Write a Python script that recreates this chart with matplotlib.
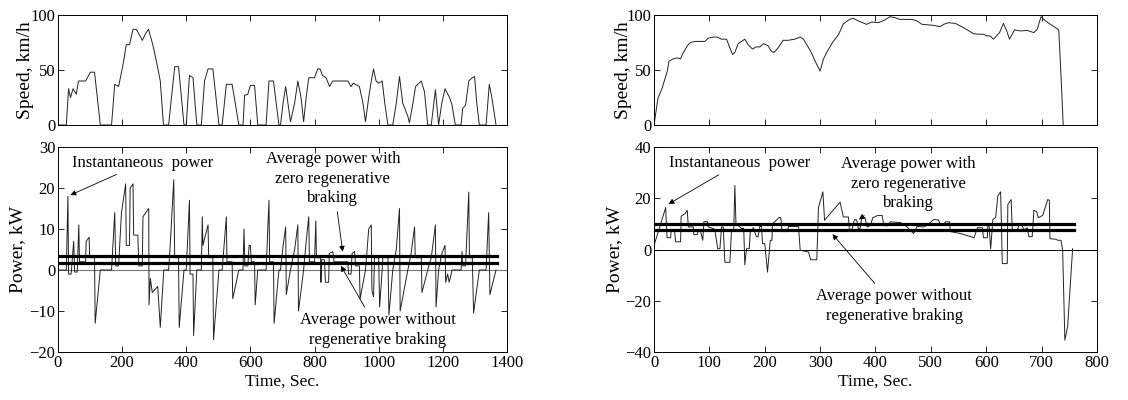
import matplotlib
matplotlib.use("Agg")
from matplotlib import pyplot as plt

plt.rcParams['font.family'] = ['Liberation Serif', 'DejaVu Serif']
plt.rcParams['font.size'] = 12

# ---- left cycle (urban) ----
t_spd_a = [0, 26, 33, 39, 47, 57, 64, 86, 101, 114, 132, 167, 177, 189, 203, 213, 223, 234, 244,
           252, 263, 273, 282, 292, 298, 309, 319, 329, 345, 364, 376, 393, 400, 410, 421, 433,
           447, 457, 468, 483, 502, 512, 525, 543, 564, 577, 582, 592, 600, 613, 623, 649, 658,
           672, 689, 694, 702, 710, 717, 725, 738, 748, 758, 766, 774, 782, 800, 810, 817, 825,
           836, 847, 857, 904, 914, 921, 940, 951, 959, 969, 977, 984, 992, 1000, 1011, 1019,
           1029, 1044, 1055, 1065, 1075, 1091, 1096, 1107, 1115, 1133, 1143, 1153, 1164, 1177,
           1187, 1197, 1207, 1221, 1229, 1239, 1257, 1262, 1271, 1281, 1292, 1299, 1306, 1314,
           1335, 1345, 1353, 1366]
spd_a = [0, 0, 33, 25, 33, 28, 40, 40, 48, 48, 0, 0, 37, 35, 55, 73, 73, 87, 87,
         83, 77, 83, 87, 77, 70, 55, 40, 0, 0, 53, 53, 0, 0, 45, 43, 0,
         0, 40, 51, 51, 0, 0, 37, 37, 0, 0, 27, 28, 36, 36, 0, 0, 40,
         40, 0, 0, 20, 35, 20, 3, 20, 40, 25, 3, 25, 43, 43, 51, 51, 45,
         43, 35, 40, 40, 35, 38, 35, 20, 3, 25, 40, 51, 40, 38, 40, 20,
         0, 0, 20, 44, 20, 8, 2, 20, 35, 40, 30, 0, 0, 32,
         0, 20, 33, 25, 18, 0, 0, 15, 18, 40, 43, 44, 20, 0,
         0, 37, 25, 0]

t_pwr_a = [0, 26, 31, 33, 41, 49, 52, 60, 65, 67,
           86, 88, 97, 99, 114, 116, 132, 167, 177, 180,
           189, 198, 211, 213, 223, 225, 234, 236, 249, 252,
           263, 265, 283, 284, 288, 294, 311, 319, 330, 345,
           350, 361, 364, 376, 378, 393, 400, 410, 412, 421,
           423, 433, 447, 450, 452, 468, 470, 483, 485, 502,
           512, 525, 527, 543, 545, 564, 577, 580, 583, 592,
           596, 600, 603, 613, 615, 623, 649, 658, 660, 672,
           674, 689, 694, 702, 710, 712, 725, 738, 748, 750,
           766, 774, 782, 784, 800, 804, 806, 819, 820, 822,
           831, 834, 844, 846, 857, 861, 904, 906, 914, 917,
           925, 928, 940, 942, 959, 969, 977, 979, 984, 987,
           1000, 1003, 1011, 1013, 1029, 1032, 1044, 1055, 1065, 1067,
           1091, 1101, 1112, 1114, 1133, 1135, 1153, 1164, 1177, 1179,
           1187, 1197, 1207, 1209, 1215, 1220, 1229, 1239, 1257, 1260,
           1262, 1271, 1281, 1283, 1292, 1296, 1314, 1335, 1343, 1347,
           1366]
pwr_a = [0, 0, 18, -1, -1, 7, -0.5, -0.5, 11, 2,
         2, 7, 8, 3, 3, -13, 0, 0, 14, 1,
         1, 14, 21, 6, 6, 20, 21, 8.5, 8.5, 1,
         1, 13, 15, -8.5, -2, -5.5, -4, -14, 0, 0,
         6, 22, 3, 3, -14, 0, 0, 17, -1, -1,
         -16, 0, 0, 13, 6, 11, 3, 3, -17, 0,
         0, 13, 2, 2, -7, 0, 0, 10, 1, 1,
         6, 6, 2, 2, -8.5, 0, 0, 17, 2, 2,
         -13, 0, 0, 6, 10.5, -6, 0, 5, 11, -10,
         0, 7, 13, 2, 2, 12, 3, 3, -3, 2.5,
         2.5, -3, -3, 4, 4.5, 2, 2, -1, -1, 4,
         4.5, 1, 1, -7, 0, 10, 11, -5, -6.5, 3,
         3, -9, 0, 3, 3, -11, 0, 5, 15, -10,
         0, 4, 10.5, 3, 3, -5.5, 0, 3, 11, -9,
         0, 4, 6, -3, -1, -3, 0, 0, 0, 4.5,
         1, 1, 19, 3, 3, -10.5, 0, 0, 14, -6,
         0]

avg_a = [3.5, 1.7]

# ---- right cycle (highway) ----
t_spd_b = [0, 7, 15, 24, 27, 34, 42, 48, 51, 60, 66, 74, 92, 98, 108, 114, 122, 131, 137, 142,
           146, 152, 164, 170, 178, 184, 191, 198, 206, 212, 217, 224, 233, 242, 254, 264, 270,
           283, 291, 300, 306, 313, 323, 333, 342, 353, 360, 369, 384, 393, 405, 417, 426, 435,
           444, 466, 475, 484, 505, 517, 523, 532, 544, 559, 577, 586, 595, 601, 607, 613, 624,
           631, 637, 642, 651, 662, 674, 686, 692, 699, 707, 725, 731, 735, 739]
spd_b = [0, 24, 34, 49, 58, 60, 61, 60, 64, 72, 75, 76, 76, 79, 80, 80, 78, 78, 70, 64,
         66, 74, 78, 73, 69, 71, 71, 74, 72, 67, 66, 70, 77, 77, 78, 80, 78,
         67, 58, 49, 60, 67, 75.5, 82, 92, 96, 97, 94.6, 91.5, 93.6, 93, 95.5, 98.5, 97.6,
         96, 96, 94.6, 91.5, 90.6, 89.4, 91.5, 93, 92.4, 88.5, 83, 82.5, 82.5, 81, 81, 78, 84,
         92.4, 85.5, 78, 86.4, 85.5, 86, 84, 87, 98.5, 94.6, 88.5, 86.4, 45, 0]

t_pwr_b = [0, 21, 23.5, 30, 31, 37, 39, 48, 49, 56, 60, 62, 71, 72, 78, 80, 84, 88, 90, 96,
           98, 107, 110, 115, 119, 122, 125, 128, 137, 140, 144, 146, 148, 154, 158, 162, 164,
           167, 172, 174, 178, 179, 185, 188, 191, 194, 196, 200, 205, 210, 213, 214, 226, 229,
           231, 240, 243, 261, 264, 279, 283, 294, 297, 305, 308, 336, 342, 351, 353, 357, 362,
           366, 369, 372, 375, 381, 385, 391, 395, 404, 412, 415, 421, 427, 445, 454, 463, 469,
           475, 487, 493, 505, 514, 517, 523, 526, 534, 535, 554, 578, 584, 593, 595, 602, 603,
           605, 608, 612, 617, 621, 626, 629, 638, 639, 645, 647, 656, 659, 665, 668, 674, 677,
           683, 686, 691, 694, 702, 705, 711, 714, 715, 726, 729, 735, 738, 742, 747, 756]
pwr_b = [1.6, 16.3, 4.6, 4.6, 7.5, 7.5, 3, 3, 13, 14, 15.3, 8.8, 8.8, 5.8, 5.8, 7.5, 7, 3.6, 10.8, 11,
         8.8, 8.2, 7.5, 0.3, 0.3, 8.8, 8.8, -5, -5, 7.7, 7.7, 25, 10, 9, 8.2, 8.2, -6,
         0.3, 0.3, 7.5, 7.5, 8.6, 5, 5, 9, 9, 2.3, 2.3, -8.8, 3.6, 3.6, 10, 12.5, 12.5,
         7, 7, 9, 9, -0.3, -1, -4, -4, 16.3, 22.5, 11.4, 18.5, 12.7, 12.7, 7.5, 7.5, 11.7,
         11.5, 8.2, 8.2, 12, 12.4, 8.8, 9.4, 12.4, 13.3, 13.3, 9.4, 9.2, 10.8, 10.5, 9.4, 7.5, 6.2,
         9, 8.8, 9.4, 11.7, 11.5, 9.4, 9.4, 10.8, 10.8, 7, 6.2, 4.6, 8.5, 8.5, 4.6, 4.6, 9.8,
         9.8, 0.3, 11.7, 12.5, 21, 22.5, -5.5, -5.5, 17.6, 19.5, 7.5, 7.5, 9.4, 9.4, 7.5, 8.5, 5,
         5, 15.3, 14.8, 12.4, 13.3, 15.3, 19.5, 19.2, 4.2, 4, 3.6, 3.6, -0.3, -35.4, -30, 0.3]

avg_b = [9.8, 7.6]

fig = plt.figure(figsize=(11.28, 4), dpi=100)

ax1 = fig.add_axes([0.0514, 0.6875, 0.398, 0.275])
ax2 = fig.add_axes([0.0514, 0.12, 0.398, 0.5125])
ax3 = fig.add_axes([0.5798, 0.6875, 0.3927, 0.275])
ax4 = fig.add_axes([0.5798, 0.12, 0.3927, 0.5125])

for ax in (ax1, ax2, ax3, ax4):
    ax.tick_params(direction='in', top=True, right=True, length=4, width=0.6, labelsize=12, pad=2)
    for s in ax.spines.values():
        s.set_linewidth(0.7)

line_kw = dict(color='#222222', lw=0.7)
lab = 14
ann = 12

# left speed
ax1.plot(t_spd_a, spd_a, **line_kw)
ax1.set_xlim(0, 1400)
ax1.set_ylim(0, 100)
ax1.set_xticks(range(0, 1401, 200))
ax1.set_xticklabels([])
ax1.set_yticks([0, 50, 100])
ax1.set_ylabel('Speed, km/h', fontsize=lab)
ax1.yaxis.set_label_coords(-0.054, 0.5)

# left power
ax2.axhline(0, color='#777777', lw=0.8)
ax2.plot(t_pwr_a, pwr_a, **line_kw)
for v in avg_a:
    ax2.axhline(v, xmin=0.0, xmax=0.978, color='black', lw=2.3)
ax2.set_xlim(0, 1400)
ax2.set_ylim(-20, 30)
ax2.set_xticks(range(0, 1401, 200))
ax2.set_yticks(range(-20, 31, 10))
ax2.set_xlabel('Time, Sec.', fontsize=12.5, labelpad=2)
ax2.set_ylabel('Power, kW', fontsize=lab)
ax2.yaxis.set_label_coords(-0.07, 0.5)
arr = dict(arrowstyle='-|>', color='black', lw=0.6, mutation_scale=8)
ax2.annotate('Instantaneous  power', xy=(31, 18), xytext=(45, 26.2), va='center', ha='left',
             arrowprops=arr, fontsize=ann)
ax2.annotate('Average power with\nzero regenerative\nbraking', xy=(889, 3.8), xytext=(857, 22.3),
             ha='center', va='center', arrowprops=arr, fontsize=ann, linespacing=1.3)
ax2.annotate('Average power without\nregenerative braking', xy=(878, 1.6), xytext=(998, -14.7),
             ha='center', va='center', arrowprops=arr, fontsize=ann, linespacing=1.3)

# right speed
ax3.plot(t_spd_b, spd_b, **line_kw)
ax3.set_xlim(0, 800)
ax3.set_ylim(0, 100)
ax3.set_xticks(range(0, 801, 100))
ax3.set_xticklabels([])
ax3.set_yticks([0, 50, 100])
ax3.set_ylabel('Speed, km/h', fontsize=lab)
ax3.yaxis.set_label_coords(-0.05, 0.5)

# right power
ax4.axhline(0, color='black', lw=0.7)
ax4.plot(t_pwr_b, pwr_b, **line_kw)
for v in avg_b:
    ax4.axhline(v, xmin=0.0, xmax=0.947, color='black', lw=2.3)
ax4.set_xlim(0, 800)
ax4.set_ylim(-40, 40)
ax4.set_xticks(range(0, 801, 100))
ax4.set_yticks(range(-40, 41, 20))
ax4.set_xlabel('Time, Sec.', fontsize=12.5, labelpad=2)
ax4.set_ylabel('Power, kW', fontsize=lab)
ax4.yaxis.set_label_coords(-0.07, 0.5)
ax4.annotate('Instantaneous  power', xy=(22, 17.2), xytext=(27, 33.9), va='center', ha='left',
             arrowprops=arr, fontsize=ann)
ax4.annotate('Average power with\nzero regenerative\nbraking', xy=(366, 11.1), xytext=(460, 25.7),
             ha='center', va='center', arrowprops=arr, fontsize=ann, linespacing=1.3)
ax4.annotate('Average power without\nregenerative braking', xy=(319, 6.8), xytext=(434, -22.1),
             ha='center', va='center', arrowprops=arr, fontsize=ann, linespacing=1.3)

fig.savefig('out.png', dpi=100)
